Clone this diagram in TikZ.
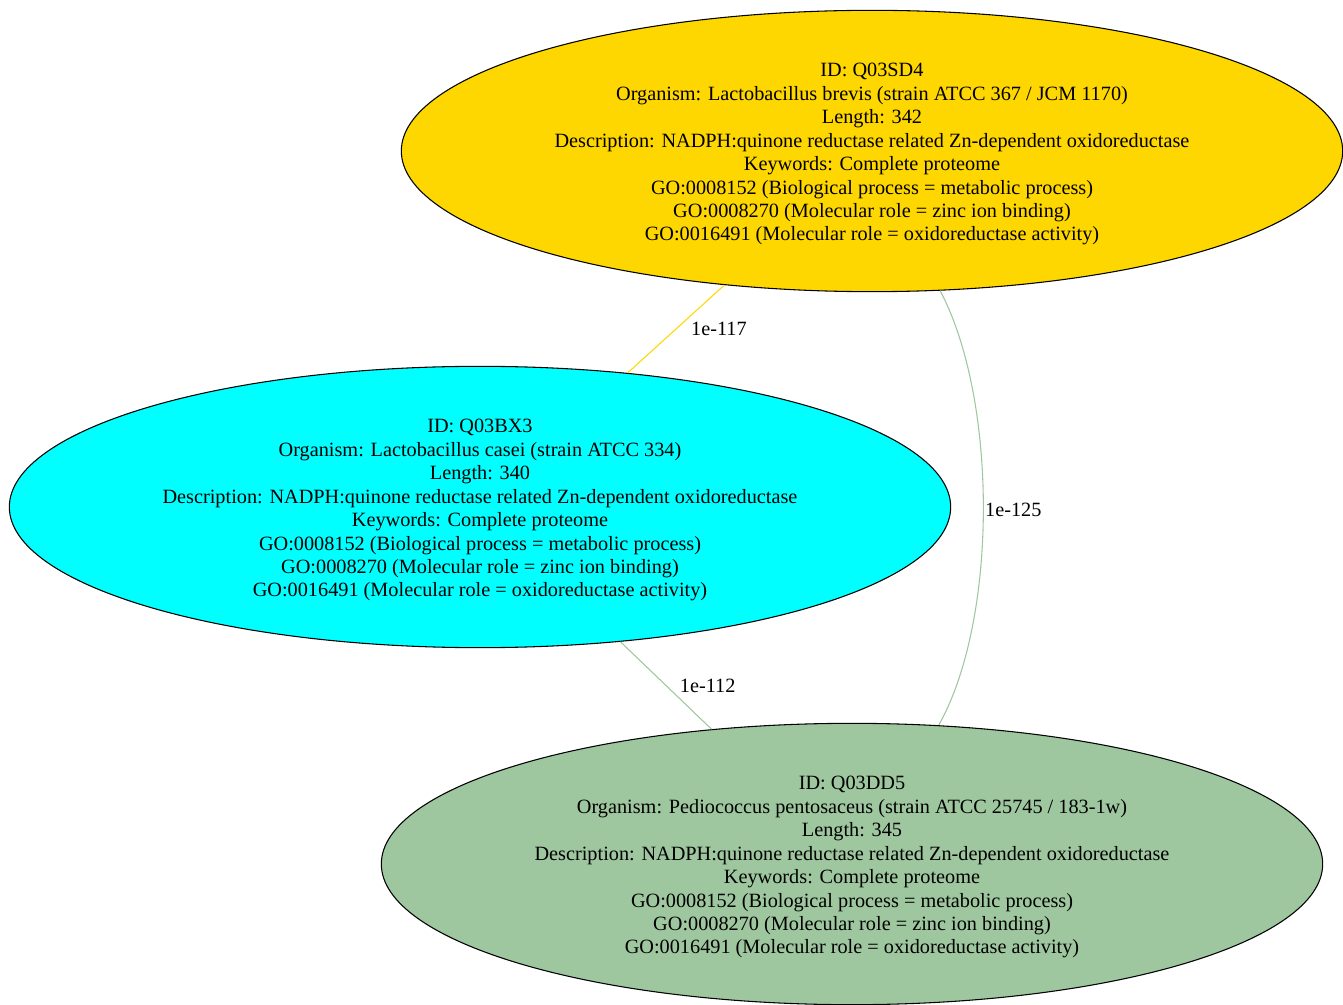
\documentclass[tikz,border=0pt]{standalone}
\usepackage{fontspec}
\setmainfont{Liberation Serif}
\usetikzlibrary{shapes.geometric}
\definecolor{protgold}{HTML}{FFD700}
\definecolor{protcyan}{HTML}{00FFFF}
\definecolor{protgreen}{HTML}{9FC79F}
\newcommand{\toplift}{\rule{0pt}{15pt}}
\tikzset{
  prot/.style={draw=black, line width=0.8pt, ellipse, inner sep=0pt, align=center,
    minimum width=706pt, minimum height=211pt,
    font=\fontsize{15.2pt}{17.6pt}\selectfont},
  evalue/.style={anchor=west, inner sep=0pt, font=\fontsize{15.2pt}{17.6pt}\selectfont}
}
\begin{document}
\begin{tikzpicture}[x=0.75pt,y=-0.75pt]
      \useasboundingbox (0,0) rectangle (1343,1005);
      \draw
        (872,151) node[prot, fill=protgold] (Q03SD4){\toplift ID: Q03SD4\\
          Organism: Lactobacillus brevis (strain ATCC 367 / JCM 1170)\\
          Length: 342\\
          Description: NADPH:quinone reductase related Zn-dependent oxidoreductase\\
          Keywords: Complete proteome\\
          GO:0008152 (Biological process = metabolic process)\\
          GO:0008270 (Molecular role = zinc ion binding)\\
          GO:0016491 (Molecular role = oxidoreductase activity)}
        (480,507) node[prot, fill=protcyan] (Q03BX3){\toplift ID: Q03BX3\\
          Organism: Lactobacillus casei (strain ATCC 334)\\
          Length: 340\\
          Description: NADPH:quinone reductase related Zn-dependent oxidoreductase\\
          Keywords: Complete proteome\\
          GO:0008152 (Biological process = metabolic process)\\
          GO:0008270 (Molecular role = zinc ion binding)\\
          GO:0016491 (Molecular role = oxidoreductase activity)}
        (852,864) node[prot, fill=protgreen] (Q03DD5){\toplift ID: Q03DD5\\
          Organism: Pediococcus pentosaceus (strain ATCC 25745 / 183-1w)\\
          Length: 345\\
          Description: NADPH:quinone reductase related Zn-dependent oxidoreductase\\
          Keywords: Complete proteome\\
          GO:0008152 (Biological process = metabolic process)\\
          GO:0008270 (Molecular role = zinc ion binding)\\
          GO:0016491 (Molecular role = oxidoreductase activity)};
      \begin{scope}[-, line width=0.8pt]
        \draw[protgold] (Q03SD4) -- node[evalue, xshift=11pt, text=black]{1e-117} (Q03BX3);
        \draw[protgreen] (Q03BX3) -- node[evalue, xshift=10pt, text=black]{1e-112} (Q03DD5);
        \draw[protgreen] (Q03SD4.-64) .. controls (998,400) and (998,620) ..
          node[evalue, pos=0.5, xshift=1pt, text=black]{1e-125} (Q03DD5.58);
      \end{scope}
    \end{tikzpicture}
\end{document}
